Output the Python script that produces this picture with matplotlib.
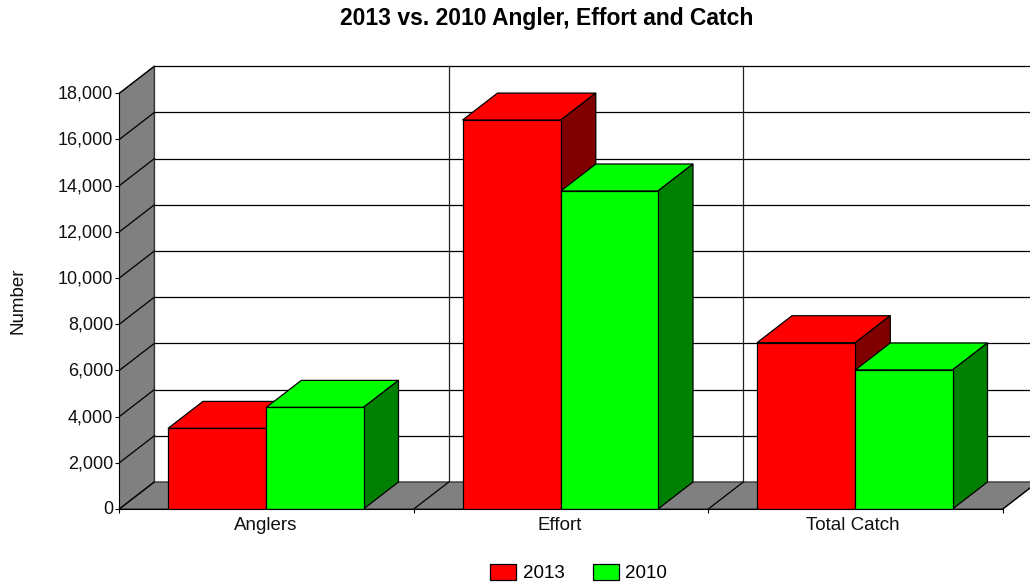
import matplotlib
matplotlib.use('Agg')
import matplotlib.pyplot as plt
from matplotlib.patches import Polygon, Patch
from matplotlib.transforms import ScaledTranslation
import numpy as np

plt.rcParams['font.family'] = ['Liberation Sans', 'DejaVu Sans']

categories = ['Anglers', 'Effort', 'Total Catch']
series_names = ['2013', '2010']
values_2013 = [3490, 16840, 7200]
values_2010 = [4400, 13770, 6020]
y_ticks = [0, 2000, 4000, 6000, 8000, 10000, 12000, 14000, 16000, 18000]

W, H = 1030, 584
left_px, bottom_px, top_px = 119.3, 509, 60
cat_px = 294.5
val_px = (509 - 93.3) / 18000

# depth of the fake 3d box, in data units
dx = 35 / cat_px
dy = 27 / val_px
red_w = 98.3 / cat_px
green_w = 97.2 / cat_px
bar_off = 48.7 / cat_px

fig = plt.figure(figsize=(W / 100, H / 100), dpi=100)
ax = fig.add_axes([left_px / W, (H - bottom_px) / H, (W - left_px) / W, (bottom_px - top_px) / H])
ax.set_xlim(0, (W - left_px) / cat_px)
ax.set_ylim(0, (bottom_px - top_px) / val_px)

line = dict(color='black', lw=0.9)
xend = ax.get_xlim()[1] + 1
ymax = y_ticks[-1]
gray = '#808080'

# back wall grid
for v in y_ticks:
    ax.plot([dx, xend], [v + dy, v + dy], zorder=1, **line)
for c in range(len(categories) + 1):
    ax.plot([c + dx, c + dx], [dy, ymax + dy], zorder=1, color='#222222', lw=0.9)

# left wall and floor
ax.add_patch(Polygon([(0, 0), (dx, dy), (dx, ymax + dy), (0, ymax)], fc=gray, ec='#333333', lw=0.9, zorder=2))
ax.add_patch(Polygon([(0, 0), (dx, dy), (3 + dx, dy), (3, 0)], fc=gray, ec='#333333', lw=0.9, zorder=2))
for v in y_ticks[1:]:
    ax.plot([0, dx], [v, v + dy], zorder=3, **line)
for c in range(len(categories) + 1):
    ax.plot([c, c + dx], [0, dy], zorder=3, **line)


def draw_bar(x, w, v, front, side, z):
    ax.add_patch(Polygon([(x, v), (x + dx, v + dy), (x + w + dx, v + dy), (x + w, v)],
                         fc=front, ec='black', lw=0.9, zorder=z))
    ax.add_patch(Polygon([(x + w, 0), (x + w + dx, dy), (x + w + dx, v + dy), (x + w, v)],
                         fc=side, ec='black', lw=0.9, zorder=z))
    ax.add_patch(Polygon([(x, 0), (x + w, 0), (x + w, v), (x, v)],
                         fc=front, ec='black', lw=0.9, zorder=z))


for i in range(len(categories)):
    draw_bar(i + bar_off, red_w, values_2013[i], '#ff0000', '#800000', 4)
    draw_bar(i + bar_off + red_w, green_w, values_2010[i], '#00ff00', '#008000', 5)

for s in ['top', 'right']:
    ax.spines[s].set_visible(False)
ax.spines['left'].set_bounds(0, ymax)
ax.spines['bottom'].set_bounds(0, 3)
ax.spines['left'].set_zorder(6)
ax.spines['bottom'].set_zorder(6)

ax.set_yticks(y_ticks)
ax.set_yticklabels([f'{v:,}' for v in y_ticks], fontsize=13, color='#111111')
ax.set_xticks([0.498, 1.496, 2.49])
ax.set_xticklabels(categories, fontsize=13.5, color='#111111')
ax.set_xticks([0, 1, 2, 3], minor=True)
ax.tick_params(axis='x', which='major', length=0, pad=5.5)
ax.tick_params(axis='x', which='minor', length=3, width=0.8)
ax.tick_params(axis='y', length=3, width=0.8, pad=1.5)

# y labels sit about a pixel above the ticks in the original
up = ScaledTranslation(0, 1 / 100, fig.dpi_scale_trans)
for t in ax.get_yticklabels():
    t.set_transform(t.get_transform() + up)

fig.text(18 / W, 1 - 301 / H, 'Number', rotation=90, ha='center', va='center', fontsize=13.5, color='#111111')
fig.text(546.5 / W, 1 - 18.5 / H, '2013 vs. 2010 Angler, Effort and Catch', ha='center', va='center',
         fontsize=16.5, fontweight='bold', color='black')

handles = [Patch(fc='#ff0000', ec='black', lw=0.9), Patch(fc='#00ff00', ec='black', lw=0.9)]
fig.legend(handles, series_names, ncol=2, frameon=False, fontsize=13.5,
           loc='center', bbox_to_anchor=(578.5 / W, 1 - 573 / H),
           handlelength=1.39, handleheight=1.0, handletextpad=0.37, columnspacing=1.5)

fig.savefig('out.png', dpi=100)
